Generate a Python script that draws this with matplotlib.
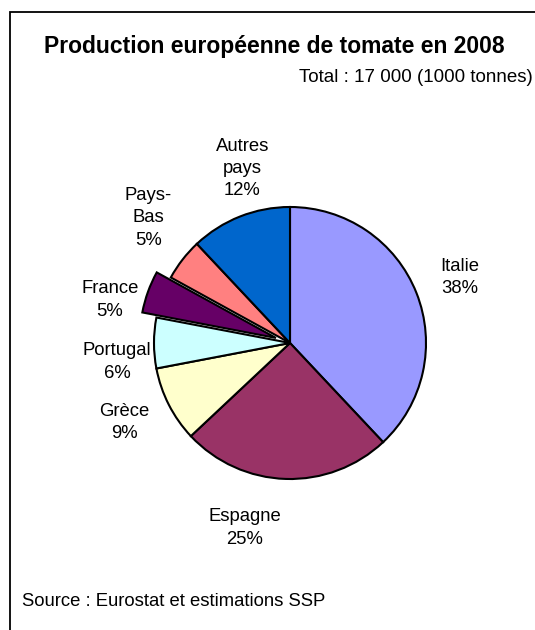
import matplotlib
matplotlib.use('Agg')
import numpy as np
import matplotlib.pyplot as plt
from matplotlib.patches import Rectangle

plt.rcParams['font.family'] = ['Liberation Sans', 'DejaVu Sans']

# Parts de la production (%)
pays = ['Italie', 'Espagne', 'Grèce', 'Portugal', 'France', 'Pays-\nBas', 'Autres\npays']
parts = [38, 25, 9, 6, 5, 5, 12]
couleurs = ['#9999FF', '#993366', '#FFFFCC', '#CCFFFF', '#660066', '#FF8080', '#0066CC']
explode = [0, 0, 0, 0, 0.11, 0, 0]

# label placement (radius factor, angle nudge in degrees)
lab_r = [1.34, 1.40, 1.35, 1.28, 1.25, 1.39, 1.33]
lab_da = [-0.6, -12, -1.4, 6.3, 6.4, -3.6, -6.3]

W, H = 535, 630
fig = plt.figure(figsize=(W / 100, H / 100), dpi=100)
ax = fig.add_axes([0, 0, 1, 1])

cx, cy, R = 290, H - 343, 136
wedges, _ = ax.pie(parts, colors=couleurs, explode=[e * R for e in explode],
                   startangle=90, counterclock=False, radius=R, center=(cx, cy),
                   frame=True, wedgeprops=dict(edgecolor='black', linewidth=1.5))
ax.set_xlim(0, W)
ax.set_ylim(0, H)
ax.set_aspect('equal')
ax.axis('off')

for i, w in enumerate(wedges):
    ang = np.deg2rad((w.theta1 + w.theta2) / 2 + lab_da[i])
    r = R * (lab_r[i] + explode[i])
    ax.text(cx + r * np.cos(ang), cy + r * np.sin(ang),
            f'{pays[i]}\n{parts[i]}%', ha='center', va='center',
            fontsize=13.3, linespacing=1.42)

# frame
fig.patches.append(Rectangle((10 / W, -0.1), 1.2, (H - 12) / H + 0.1,
                             transform=fig.transFigure, fill=False,
                             edgecolor='black', linewidth=1.3))

fig.text(274 / W, 1 - 47 / H, 'Production européenne de tomate en 2008',
         ha='center', va='center', fontsize=16.5, fontweight='bold')
fig.text(533 / W, 1 - 77 / H, 'Total : 17 000 (1000 tonnes)',
         ha='right', va='center', fontsize=13.5)
fig.text(22 / W, 1 - 601 / H, 'Source : Eurostat et estimations SSP',
         ha='left', va='center', fontsize=13.3)

fig.savefig('out.png', dpi=100)
